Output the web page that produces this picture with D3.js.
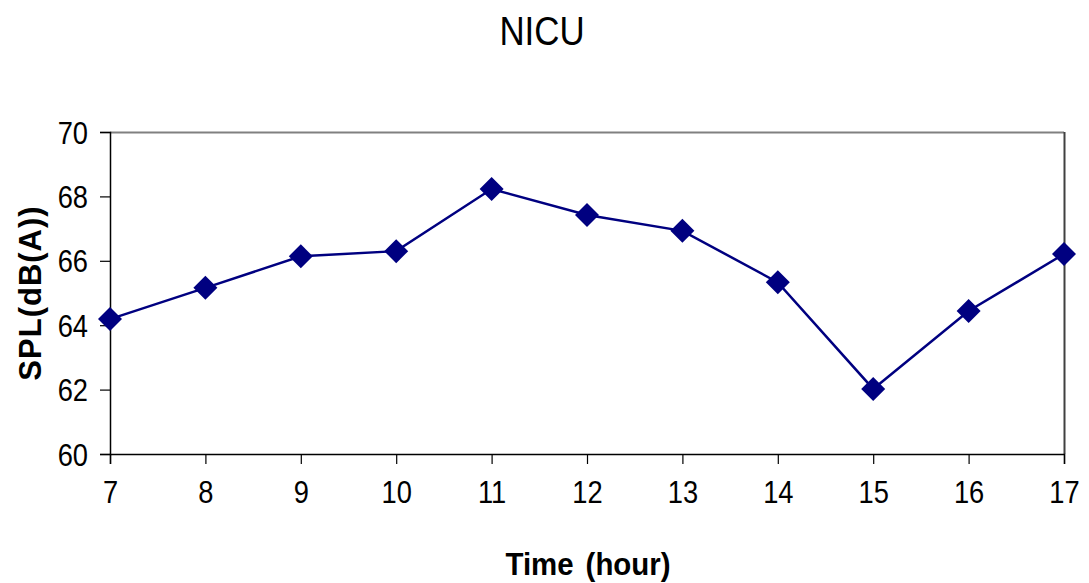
<!DOCTYPE html>
<html><head><meta charset="utf-8">
<script src="https://cdn.jsdelivr.net/npm/d3@7"></script>
<style>body{margin:0;background:#fff}svg{display:block}text{font-family:"Liberation Sans",Arial,sans-serif}</style>
</head><body>
<svg id="c" width="1089" height="583"></svg>
<script>
const hours = [7, 8, 9, 10, 11, 12, 13, 14, 15, 16, 17];
const spl = [64.19, 65.16, 66.14, 66.30, 68.23, 67.42, 66.93, 65.33, 62.02, 64.44, 66.21];
const yTicks = [60, 62, 64, 66, 68, 70];
const title = "NICU";
const xTitle = "Time (hour)";
const yTitle = "SPL(dB(A))";

const svg = d3.select("#c");
const L = 110, R = 1064, T = 132, B = 454;
const x = d3.scaleLinear().domain([7, 17]).range([L, R]);
const y = d3.scaleLinear().domain([60, 70]).range([B, T]);

// plot border
svg.append("line").attr("x1", L).attr("x2", R).attr("y1", T + 0.5).attr("y2", T + 0.5).attr("stroke", "#808080").attr("stroke-width", 2);
svg.append("line").attr("x1", R + 0.5).attr("x2", R + 0.5).attr("y1", T).attr("y2", B).attr("stroke", "#404040").attr("stroke-width", 2);

const yAxis = svg.append("g").attr("transform", `translate(${L},0)`)
  .call(d3.axisLeft(y).tickValues(yTicks).tickSize(10).tickPadding(0).tickFormat(d3.format("d")));
yAxis.select(".domain").attr("stroke", "#000").attr("stroke-width", 1.5);
yAxis.selectAll(".tick line").attr("stroke", "#000").attr("stroke-width", 1.2);
yAxis.selectAll(".tick text").attr("font-size", 31).attr("fill", "#000").attr("x", -22 / 0.88).attr("dy", "0.36em")
  .attr("transform", "scale(0.88,1.0)").attr("text-anchor", "end");

const xAxis = svg.append("g").attr("transform", `translate(0,${B})`)
  .call(d3.axisBottom(x).tickValues(hours).tickSize(10).tickPadding(0).tickFormat(d3.format("d")));
xAxis.select(".domain").attr("stroke", "#000").attr("stroke-width", 1.5);
xAxis.selectAll(".tick line").attr("stroke", "#000").attr("stroke-width", 1.2);
xAxis.selectAll(".tick text").attr("font-size", 31).attr("fill", "#000").attr("y", 49).attr("dy", 0)
  .attr("transform", "scale(0.88,1)");

// data line
const line = d3.line().x((d, i) => x(hours[i])).y(d => y(d));
svg.append("path").datum(spl).attr("d", line).attr("fill", "none").attr("stroke", "#000080").attr("stroke-width", 2.5);
svg.selectAll(".pt").data(spl).enter().append("path").attr("class", "pt")
  .attr("d", "M0,-12L12,0L0,12L-12,0Z")
  .attr("transform", (d, i) => `translate(${x(hours[i])},${y(d)})`)
  .attr("fill", "#000080");

// titles
svg.append("text").attr("transform", "translate(542,45) scale(0.85,1)").attr("text-anchor", "middle")
  .attr("font-size", 41).attr("fill", "#000").text(title);
svg.append("text").attr("transform", "translate(588,575) scale(0.95,1)").attr("text-anchor", "middle")
  .attr("font-size", 31).attr("font-weight", "bold").attr("fill", "#000").attr("word-spacing", 4).text(xTitle);
svg.append("text").attr("transform", "translate(41,293) rotate(-90)").attr("text-anchor", "middle")
  .attr("font-size", 31).attr("font-weight", "bold").attr("letter-spacing", 1).attr("fill", "#000").text(yTitle);
</script>
</body></html>
